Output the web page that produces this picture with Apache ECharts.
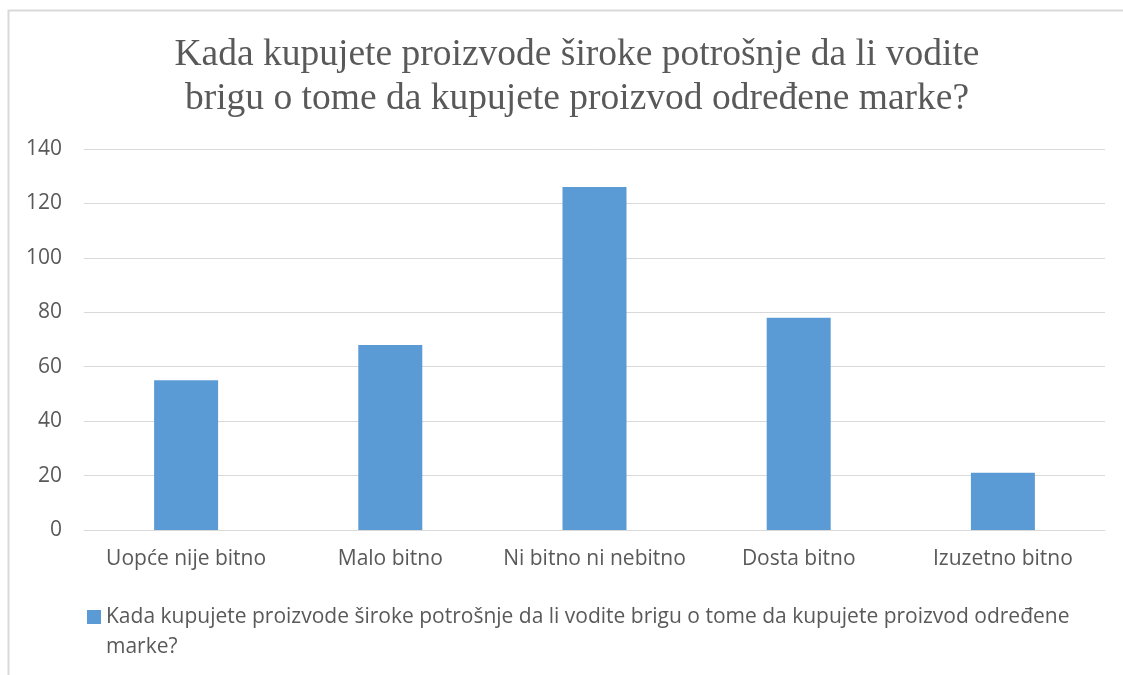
<!DOCTYPE html>
<html><head><meta charset="utf-8">
<script src="https://cdn.jsdelivr.net/npm/echarts@6/dist/echarts.min.js"></script>
<style>html,body{margin:0;padding:0;background:#fff}#c{width:1123px;height:675px}</style>
</head><body><div id="c"></div>
<script>
const titleText = 'Kada kupujete proizvode široke potrošnje da li vodite\nbrigu o tome da kupujete proizvod određene marke?';
const seriesName = 'Kada kupujete proizvode široke potrošnje da li vodite brigu o tome da kupujete proizvod određene marke?';
const categories = ['Uopće nije bitno', 'Malo bitno', 'Ni bitno ni nebitno', 'Dosta bitno', 'Izuzetno bitno'];
const values = [55, 68, 126, 78, 21];
const yTicks = { min: 0, max: 140, interval: 20 };

const chart = echarts.init(document.getElementById('c'), null, { renderer: 'canvas' });
chart.setOption({
  backgroundColor: '#fff',
  animation: false,
  graphic: [{
    type: 'rect', left: 6, top: 8, shape: { x: 0, y: 0, width: 1130, height: 680 },
    style: { fill: 'none', stroke: '#d9d9d9', lineWidth: 2 }, silent: true
  }],
  title: {
    text: titleText, left: 572, top: 28, textAlign: 'center',
    textStyle: { fontFamily: 'Liberation Serif', fontSize: 37.5, fontWeight: 'normal', color: '#595959', lineHeight: 44 }
  },
  grid: { left: 84, right: 18, top: 149, bottom: 145, containLabel: false },
  legend: {
    left: 82, top: 597, itemWidth: 14, itemHeight: 44, itemGap: 5,
    icon: 'path://M0,0L14,0L14,14L0,14Z M0,44L0.01,44',
    symbolKeepAspect: false,
    textStyle: { fontFamily: 'Open Sans', fontSize: 21, color: '#595959', width: 1000, overflow: 'break', lineHeight: 30 },
    data: [seriesName]
  },
  xAxis: {
    type: 'category', data: categories,
    axisLine: { lineStyle: { color: '#d9d9d9', width: 1 } },
    axisTick: { show: false },
    axisLabel: { fontFamily: 'Open Sans', fontSize: 21, color: '#595959', margin: 19, interval: 0 }
  },
  yAxis: {
    type: 'value', min: yTicks.min, max: yTicks.max, interval: yTicks.interval,
    axisLine: { show: false }, axisTick: { show: false },
    splitLine: { lineStyle: { color: '#d9d9d9', width: 1 } },
    axisLabel: { fontFamily: 'Open Sans', fontSize: 21, color: '#595959', margin: 22 }
  },
  series: [{
    name: seriesName, type: 'bar', data: values, barWidth: 64,
    itemStyle: { color: '#5b9bd5' }
  }]
});
</script></body></html>
